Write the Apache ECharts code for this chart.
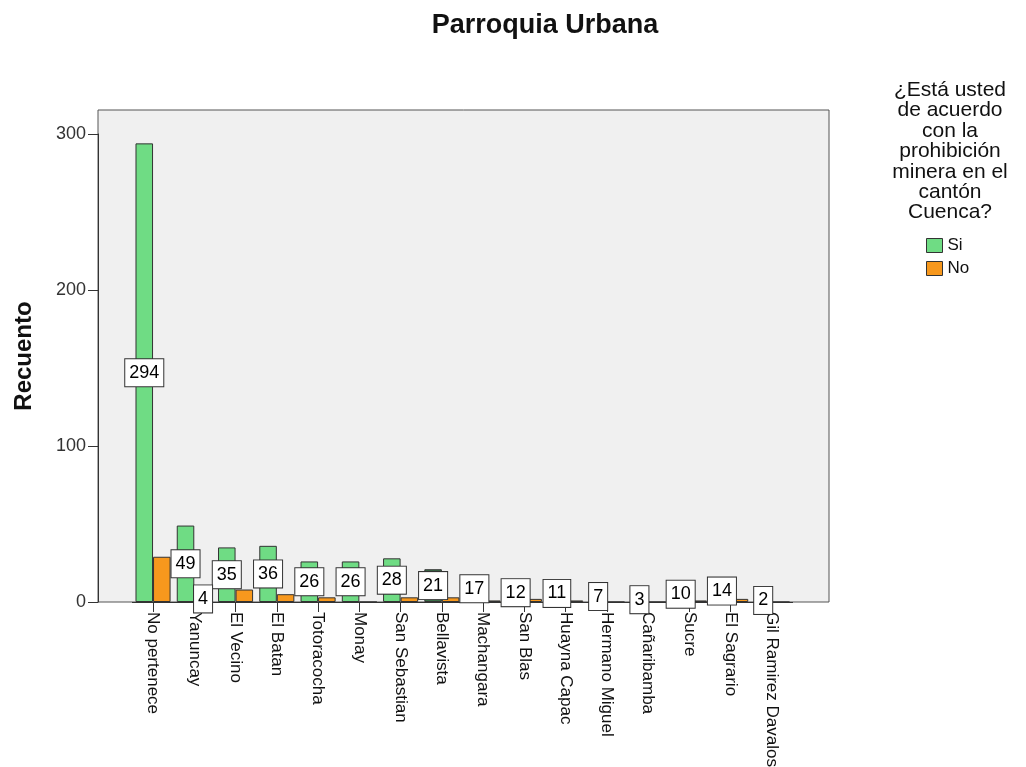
<!DOCTYPE html>
<html><head><meta charset="utf-8">
<script src="https://cdn.jsdelivr.net/npm/echarts@6/dist/echarts.min.js"></script>
<style>html,body{margin:0;padding:0;background:#fff}#c{width:1026px;height:767px}</style>
</head><body><div id="c"></div>
<script>
const categories = ['No pertenece','Yanuncay','El Vecino','El Batan','Totoracocha','Monay','San Sebastian','Bellavista','Machangara','San Blas','Huayna Capac','Hermano Miguel','Cañaribamba','Sucre','El Sagrario','Gil Ramirez Davalos'];
const siValues = [294,49,35,36,26,26,28,21,17,12,11,7,3,10,14,2];
const noValues = [29,4,8,5,3,0,3,3,1,2,1,0,0,1,2,0];
const yTicks = [0,100,200,300];
const seriesNames = ['Si','No'];
const chartTitle = 'Parroquia Urbana';
const yAxisTitle = 'Recuento';
const legendTitle = '¿Está usted\nde acuerdo\ncon la\nprohibición\nminera en el\ncantón\nCuenca?';
const labeledNoCategories = ['Yanuncay'];
const highlightedSiCategories = ['Bellavista'];

const FONT = 'Liberation Sans, Arial, sans-serif';
const GREEN = '#6fdc84', DARKGREEN = '#3b6e47', ORANGE = '#f7981d', EDGE = '#333';

const boxLabel = {
  show: true, position: 'inside', color: '#000', fontFamily: FONT, fontSize: 18,
  backgroundColor: '#fff', borderColor: '#333', borderWidth: 1, padding: [5, 4, 4, 4]
};

const siData = siValues.map((v, i) => highlightedSiCategories.includes(categories[i])
  ? { value: v, itemStyle: { color: DARKGREEN } } : v);
const noData = noValues.map((v, i) => labeledNoCategories.includes(categories[i])
  ? { value: v, label: boxLabel } : v);

const chart = echarts.init(document.getElementById('c'), null, { renderer: 'canvas' });
chart.setOption({
  animation: false,
  backgroundColor: '#fff',
  title: {
    text: chartTitle, left: 540, top: 7, textAlign: 'center',
    textStyle: { fontFamily: FONT, fontSize: 27, fontWeight: 'bold', color: '#111' }
  },
  legend: {
    data: seriesNames, orient: 'vertical', left: 926, top: 237, padding: 0,
    itemWidth: 16, itemHeight: 14, itemGap: 6, selectedMode: false,
    icon: 'rect',
    itemStyle: { borderColor: EDGE, borderWidth: 1 },
    textStyle: { fontFamily: FONT, fontSize: 17, color: '#111' }
  },
  graphic: [
    { type: 'rect', z: -1, silent: true,
      shape: { x: 98, y: 110, width: 731, height: 492 },
      style: { fill: '#f0f0f0', stroke: '#555', lineWidth: 1 } },
    { type: 'text', z: 10, silent: true, x: 950, y: 80,
      style: { text: legendTitle, fill: '#111', font: '21px ' + FONT, textAlign: 'center', lineHeight: 20.4 } },
    { type: 'text', z: 10, silent: true, x: 24, y: 356, rotation: Math.PI / 2,
      style: { text: yAxisTitle, fill: '#111', font: 'bold 24px ' + FONT, textAlign: 'center', textVerticalAlign: 'middle' } }
  ],
  grid: { left: 132.4, right: 233.4, top: 134, bottom: 165, containLabel: false, outerBoundsMode: 'none' },
  xAxis: {
    type: 'category', data: categories,
    axisLine: { show: true, lineStyle: { color: EDGE, width: 1 } },
    axisTick: { show: true, alignWithLabel: true, length: 10, lineStyle: { color: EDGE } },
    axisLabel: { interval: 0, rotate: -90, margin: 10, fontFamily: FONT, fontSize: 17, color: '#111' }
  },
  yAxis: {
    type: 'value', min: yTicks[0], max: yTicks[yTicks.length - 1], interval: 100,
    offset: 34.4,
    axisLine: { show: true, lineStyle: { color: EDGE, width: 1 } },
    axisTick: { show: true, length: 10, lineStyle: { color: EDGE } },
    axisLabel: { margin: 12, fontFamily: FONT, fontSize: 18, color: '#333' },
    splitLine: { show: false }
  },
  series: [
    { name: seriesNames[0], type: 'bar', data: siData, barGap: '0%', barCategoryGap: '15%',
      itemStyle: { color: GREEN, borderColor: EDGE, borderWidth: 1 },
      label: boxLabel },
    { name: seriesNames[1], type: 'bar', data: noData, barGap: '0%', barCategoryGap: '15%',
      itemStyle: { color: ORANGE, borderColor: EDGE, borderWidth: 1 },
      label: { show: false } }
  ]
});
</script></body></html>
